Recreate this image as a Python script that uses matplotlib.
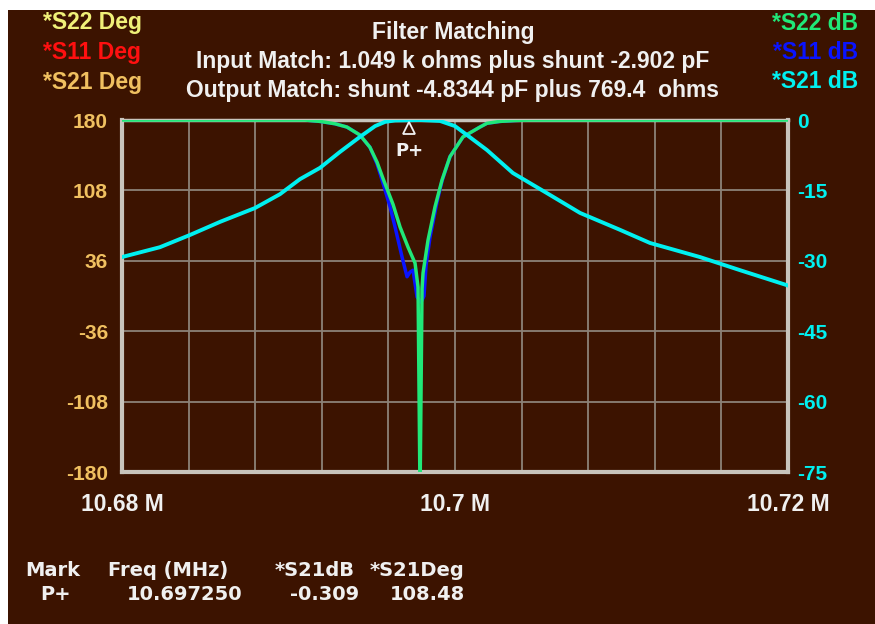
import matplotlib
matplotlib.use("Agg")
import matplotlib.pyplot as plt
from matplotlib.patches import Rectangle
from matplotlib import transforms

# frequency sweep, MHz
f_min, f_max = 10.68, 10.72

# S21 dB (cyan)
s21_f = [10.68000, 10.68228, 10.68408, 10.68589, 10.68799, 10.68949, 10.69069,
         10.69189, 10.69309, 10.69429, 10.69520, 10.69580, 10.69640, 10.69790,
         10.69910, 10.70000, 10.70072, 10.70192, 10.70348, 10.70553, 10.70751,
         10.70991, 10.71171, 10.71471, 10.71712, 10.71994]
s21_db = [-29.2, -27.1, -24.5, -21.7, -18.75, -15.8, -12.6,
          -10.2, -6.8, -3.6, -1.3, -0.4, -0.1, 0.0,
          -0.2, -1.3, -3.2, -6.4, -11.3, -15.6, -19.8,
          -23.4, -26.2, -29.2, -32.0, -35.2]

# S22 dB (green)
s22_f = [10.68000, 10.69099, 10.69189, 10.69279, 10.69351, 10.69429, 10.69489,
         10.69532, 10.69568, 10.69628, 10.69670, 10.69718, 10.69760, 10.69778,
         10.69790, 10.69802, 10.69808, 10.69838, 10.69880, 10.69922, 10.69970,
         10.70048, 10.70150, 10.70192, 10.70270, 10.70360, 10.70450, 10.72000]
s22_db = [0.0, 0.0, -0.3, -0.8, -1.5, -3.2, -5.8,
          -9.0, -12.5, -18.0, -22.8, -27.1, -30.5, -35.6,
          -80.0, -36.0, -32.6, -25.6, -18.5, -12.8, -7.8,
          -3.6, -1.5, -0.7, -0.3, -0.1, 0.0, 0.0]

# S11 dB (blue)
s11_f = [10.68000, 10.69099, 10.69189, 10.69279, 10.69351, 10.69429, 10.69489,
         10.69532, 10.69568, 10.69610, 10.69640, 10.69682, 10.69712, 10.69730,
         10.69748, 10.69772, 10.69796, 10.69814, 10.69826, 10.69850, 10.69892,
         10.69922, 10.69970, 10.70048, 10.70150, 10.70192, 10.70270, 10.70360,
         10.70450, 10.72000]
s11_db = [0.0, 0.0, -0.3, -0.8, -1.5, -3.2, -5.8,
          -9.4, -13.5, -18.5, -22.8, -29.2, -33.4, -32.4,
          -32.0, -37.7, -38.8, -37.5, -31.0, -25.0, -17.5,
          -13.0, -7.8, -3.6, -1.5, -0.7, -0.3, -0.1,
          0.0, 0.0]

deg_ticks = [180, 108, 36, -36, -108, -180]
db_ticks = [0, -15, -30, -45, -60, -75]
freq_ticks = [10.68, 10.70, 10.72]
freq_labels = ["10.68 M", "10.7 M", "10.72 M"]

mark_f, mark_db = 10.697250, -0.309

title_lines = ["Filter Matching",
               "Input Match: 1.049 k ohms plus shunt -2.902 pF",
               "Output Match: shunt -4.8344 pF plus 769.4  ohms"]

bg = "#3c1300"
frame_c = "#c8c4bc"
grid_c = "#8c8278"
green = "#20e878"
blue = "#0a14ff"
cyan = "#00f0f0"
orange = "#f0c060"
white = "#f0f0f0"
font = "Liberation Sans"

fig = plt.figure(figsize=(8.75, 6.24), dpi=100, facecolor="white")
fig.patches.append(Rectangle((8 / 875, 0), 1, 1 - 10 / 624, transform=fig.transFigure,
                             facecolor=bg, edgecolor="none", zorder=-10))

ax = fig.add_axes([122 / 875, 1 - 472 / 624, 666 / 875, 352 / 624])
ax.set_facecolor(bg)
ax.set_xlim(f_min, f_max)
ax.set_ylim(-180, 180)
ax.set_yticks(deg_ticks)
ax.set_yticklabels([str(t) for t in deg_ticks], color=orange, fontsize=15,
                   fontweight="bold", family=font)
ax.set_xticks([f_min + i * 0.004 for i in range(11)], minor=True)
ax.set_xticks(freq_ticks)
ax.set_xticklabels(freq_labels, color=white, fontsize=16.5, fontweight="bold", family=font)
ax.tick_params(axis="x", which="both", length=0, pad=15)
ax.tick_params(axis="y", length=0, pad=10)
ax.grid(True, which="both", color=grid_c, linewidth=1.3)
for s in ax.spines.values():
    s.set_visible(False)

ax2 = ax.twinx()
ax2.set_ylim(-75, 0)
ax2.set_yticks(db_ticks)
ax2.set_yticklabels([str(t) for t in db_ticks], color=cyan, fontsize=15,
                    fontweight="bold", family=font)
ax2.tick_params(axis="y", length=0, pad=6.5)
for s in ax2.spines.values():
    s.set_color(frame_c)
    s.set_linewidth(3)
ax2.spines["top"].set_linewidth(2.5)

ax2.plot(s11_f, s11_db, color=blue, lw=2.5, zorder=2)
ax2.plot(s22_f, s22_db, color=green, lw=2.5, zorder=3)
ax2.plot(s21_f, s21_db, color=cyan, lw=2.8, zorder=4)

# marker
tr = transforms.offset_copy(ax2.transData, fig=fig, x=0, y=-5, units="points")
ax2.plot([mark_f], [mark_db], marker="^", ms=9, mfc="none", mec=white, mew=1.3,
         transform=tr, clip_on=False, zorder=6)
ax2.annotate("P+", (mark_f, mark_db), xytext=(0, -21), textcoords="offset points",
             ha="center", va="center", color=white, fontsize=13, fontweight="bold",
             family="DejaVu Sans", zorder=6)

# titles
for i, t in enumerate(title_lines):
    fig.text(453 / 875, 1 - (32 + 29.5 * i) / 624, t, ha="center", va="center",
             color=white, fontsize=16.5, fontweight="bold", family=font)

left_leg = [("*S22 Deg", "#f0f078"), ("*S11 Deg", "#ff1010"), ("*S21 Deg", orange)]
right_leg = [("*S22 dB", green), ("*S11 dB", blue), ("*S21 dB", cyan)]
for i, (t, c) in enumerate(left_leg):
    fig.text(43 / 875, 1 - (23 + 29.5 * i) / 624, t, ha="left", va="center",
             color=c, fontsize=16.5, fontweight="bold", family=font)
for i, (t, c) in enumerate(right_leg):
    fig.text(858 / 875, 1 - (23 + 29.5 * i) / 624, t, ha="right", va="center",
             color=c, fontsize=16.5, fontweight="bold", family=font)

# marker table
table_head = ["Mark", "Freq (MHz)", "*S21dB", "*S21Deg"]
table_row = ["P+", "10.697250", "-0.309", "108.48"]
head_x = [25, 108, 275, 370]
row_x = [40, 127, 290, 390]
for t, x in zip(table_head, head_x):
    fig.text(x / 875, 1 - 570 / 624, t, ha="left", va="center", color=white,
             fontsize=14, fontweight="bold", family="DejaVu Sans")
for t, x in zip(table_row, row_x):
    fig.text(x / 875, 1 - 594 / 624, t, ha="left", va="center", color=white,
             fontsize=14, fontweight="bold", family="DejaVu Sans")

fig.savefig("out.png", dpi=100, facecolor=fig.get_facecolor())
